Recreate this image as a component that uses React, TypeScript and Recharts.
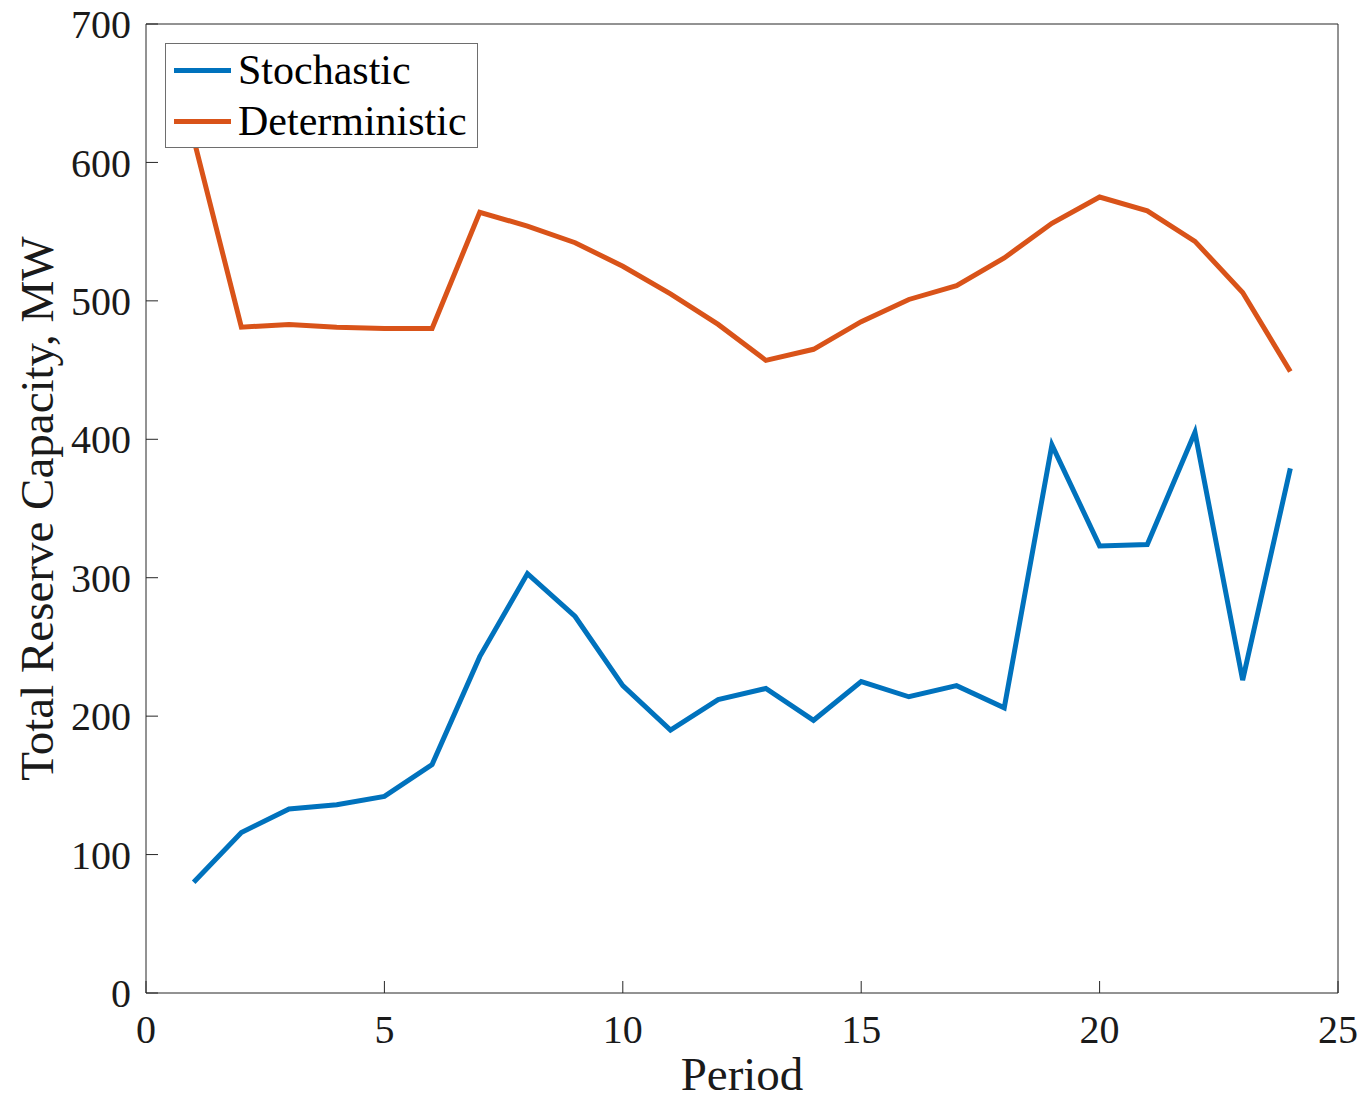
import { LineChart, Line, XAxis, YAxis, Legend } from "recharts";

const periods = [1, 2, 3, 4, 5, 6, 7, 8, 9, 10, 11, 12, 13, 14, 15, 16, 17, 18, 19, 20, 21, 22, 23, 24];
const stochastic = [80, 116, 133, 136, 142, 165, 243, 303, 272, 222, 190, 212, 220, 197, 225, 214, 222, 206, 396, 323, 324, 405, 226, 379];
const deterministic = [617, 481, 483, 481, 480, 480, 564, 554, 542, 525, 505, 483, 457, 465, 485, 501, 511, 531, 556, 575, 565, 543, 506, 449];
const seriesNames = ["Stochastic", "Deterministic"];
const xTicks = [0, 5, 10, 15, 20, 25];
const yTicks = [0, 100, 200, 300, 400, 500, 600, 700];

const FONT = '"Liberation Serif", "Times New Roman", serif';
const AXIS = "#262626";
const BLUE = "#0072BD";
const ORANGE = "#D95319";

const data = periods.map((p, i) => ({
  period: p,
  stochastic: stochastic[i],
  deterministic: deterministic[i],
}));

function LegendBox({ payload }: any) {
  // keep plotting order, recharts sorts by name otherwise
  const items = [...(payload || [])].sort(
    (a: any, b: any) => seriesNames.indexOf(a.value) - seriesNames.indexOf(b.value)
  );
  return (
    <div
      style={{
        width: 311,
        height: 103,
        border: "1px solid #6e6e6e",
        background: "#fff",
        fontFamily: FONT,
        fontSize: 42,
        color: "#000",
        boxSizing: "content-box",
      }}
    >
      {items.map((item: any) => (
        <div key={item.value} style={{ display: "flex", alignItems: "center", height: 49, marginTop: 2 }}>
          <span style={{ display: "inline-block", width: 57, height: 5, background: item.color, marginLeft: 8, marginRight: 7 }} />
          <span style={{ lineHeight: "49px" }}>{item.value}</span>
        </div>
      ))}
    </div>
  );
}

export default function App() {
  return (
    <div style={{ position: "absolute", left: 0, top: 0, background: "#fff" }}>
      <LineChart width={1362} height={1103} data={data} margin={{ top: 23, right: 23, bottom: 0, left: 0 }}>
        <XAxis
          dataKey="period"
          type="number"
          domain={[0, 25]}
          ticks={xTicks}
          height={110}
          stroke={AXIS}
          tickSize={-12}
          tickMargin={34}
          tick={{ fill: "#1a1a1a", fontSize: 40, fontFamily: FONT }}
          label={{
            content: ({ viewBox }: any) => (
              <text
                x={viewBox.x + viewBox.width / 2}
                y={1090}
                textAnchor="middle"
                fontSize={47}
                fontFamily={FONT}
                fill="#1a1a1a"
              >
                Period
              </text>
            ),
          }}
        />
        <XAxis
          xAxisId="top"
          orientation="top"
          dataKey="period"
          type="number"
          domain={[0, 25]}
          ticks={xTicks}
          height={1}
          stroke={AXIS}
          tickSize={-12}
          tick={false}
        />
        <YAxis
          type="number"
          domain={[0, 700]}
          ticks={yTicks}
          width={146}
          stroke={AXIS}
          tickSize={-12}
          tickMargin={27}
          tick={{ fill: "#1a1a1a", fontSize: 40, fontFamily: FONT }}
          label={{
            content: ({ viewBox }: any) => {
              const cx = 53;
              const cy = viewBox.y + viewBox.height / 2;
              return (
                <text
                  x={cx}
                  y={cy}
                  transform={`rotate(-90 ${cx} ${cy})`}
                  textAnchor="middle"
                  fontSize={47}
                  fontFamily={FONT}
                  fill="#1a1a1a"
                >
                  Total Reserve Capacity, MW
                </text>
              );
            },
          }}
        />
        <YAxis
          yAxisId="right"
          orientation="right"
          type="number"
          domain={[0, 700]}
          ticks={yTicks}
          width={1}
          stroke={AXIS}
          tickSize={-12}
          tick={false}
        />
        <Legend
          layout="vertical"
          verticalAlign="middle"
          align="center"
          content={LegendBox}
          wrapperStyle={{ left: 165, top: 43, width: "auto", height: "auto" }}
        />
        <Line
          name="Stochastic"
          dataKey="stochastic"
          stroke={BLUE}
          strokeWidth={5}
          dot={false}
          isAnimationActive={false}
        />
        <Line
          name="Deterministic"
          dataKey="deterministic"
          xAxisId="top"
          yAxisId="right"
          stroke={ORANGE}
          strokeWidth={5}
          dot={false}
          isAnimationActive={false}
        />
      </LineChart>
    </div>
  );
}
